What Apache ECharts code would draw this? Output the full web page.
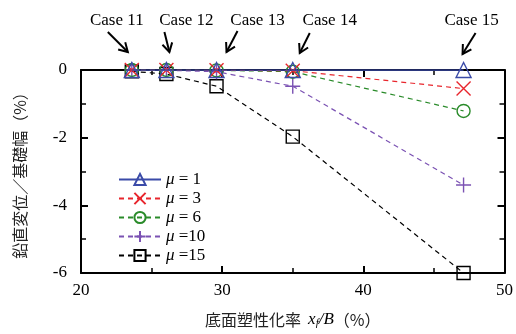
<!DOCTYPE html>
<html><head><meta charset="utf-8">
<script src="https://cdn.jsdelivr.net/npm/echarts@6/dist/echarts.min.js"></script>
<style>html,body{margin:0;padding:0;background:#fff}#c{width:516px;height:334px}</style>
</head><body><div id="c"></div>
<script>
// Data
var xRatio = [23.6, 26.05, 29.6, 35.0, 47.1];
var caseNames = ['Case 11', 'Case 12', 'Case 13', 'Case 14', 'Case 15'];
var mu1  = [0, 0, 0, 0, 0];
var mu3  = [0, 0, -0.01, -0.02, -0.55];
var mu6  = [0, 0, -0.01, -0.05, -1.21];
var mu10 = [0, -0.01, -0.05, -0.48, -3.40];
var mu15 = [-0.04, -0.12, -0.48, -1.97, -6.0];
var seriesNames = ['μ = 1', 'μ = 3', 'μ = 6', 'μ =10', 'μ =15'];

// annotation layout offsets (styling, relative to each case point)
var textDx  = [-15, 20, 41, 37, 8];
var arrowTop = [[-24, 32], [-2, 32], [21, 31], [17, 33], [12, 33]];
var arrowTip = [[-4, 52], [3, 52], [10, 52], [7, 53], [-1, 54]];

var serif = 'Liberation Serif, Times New Roman, serif';
function pair(v){ return xRatio.map(function(x,i){ return [x, v[i]]; }); }

var chart = echarts.init(document.getElementById('c'));
function mk(name, data, color, symbol, size, dashed, z){
  return {
    name: name, type: 'line', data: pair(data), z: z,
    symbol: symbol, symbolSize: size,
    lineStyle: {color: color, width: dashed ? 1.2 : 1.5, type: dashed ? [5,4] : 'solid'},
    itemStyle: {color: 'rgba(255,255,255,0)', borderColor: color, borderWidth: 1.4},
    emphasis: {disabled: true}
  };
}
var axisLine = {show: true, onZero: false, lineStyle: {color: '#000', width: 2}};
var tick = {show: true, inside: true, length: 7, lineStyle: {color: '#000', width: 2}};
var minor = {show: true, splitNumber: 2, length: 5, lineStyle: {color: '#000', width: 1.5}};
var option = {
  animation: false,
  grid: {left: 81, right: 10, top: 70, bottom: 54},
  xAxis: [{
    type: 'value', min: 20, max: 50, interval: 10,
    axisLine: axisLine, axisTick: tick, minorTick: minor, splitLine: {show: false},
    axisLabel: {color: '#000', fontFamily: serif, fontSize: 17, margin: 9},
    name: '{c|底面塑性化率  }{i|x}{s|f}{i|/B}{c|（%）}',
    nameLocation: 'middle', nameGap: 37,
    nameTextStyle: {rich: {
      c: {fontFamily: 'Noto Sans CJK JP', fontSize: 16, color: '#222'},
      i: {fontFamily: serif, fontStyle: 'italic', fontSize: 17, color: '#000'},
      s: {fontFamily: serif, fontStyle: 'italic', fontSize: 11, color: '#000', verticalAlign: 'bottom', padding: [8,0,0,0]}
    }}
  }, {
    type: 'value', position: 'top', min: 20, max: 50, interval: 10,
    axisLine: axisLine, axisTick: tick, minorTick: minor, splitLine: {show: false},
    axisLabel: {show: false}
  }],
  yAxis: [{
    type: 'value', min: -6, max: 0, interval: 2,
    axisLine: axisLine, axisTick: tick, minorTick: minor, splitLine: {show: false},
    axisLabel: {color: '#000', fontFamily: serif, fontSize: 17, margin: 14},
    name: '鉛直変位／基礎幅（%）', nameLocation: 'middle', nameGap: 53, nameRotate: 90,
    nameTextStyle: {fontFamily: 'Noto Sans CJK JP', fontSize: 16, color: '#222'}
  }, {
    type: 'value', position: 'right', min: -6, max: 0, interval: 2,
    axisLine: axisLine, axisTick: tick, minorTick: minor, splitLine: {show: false},
    axisLabel: {show: false}
  }],
  legend: {
    orient: 'vertical', left: 118, top: 171, padding: 0,
    itemWidth: 42, itemHeight: 14, itemGap: 2,
    data: seriesNames,
    formatter: function(n){ return '{i|μ}{n|' + n.slice(1) + '}'; },
    textStyle: {rich: {
      i: {fontFamily: serif, fontStyle: 'italic', fontSize: 17, color: '#000'},
      n: {fontFamily: serif, fontSize: 17, color: '#000'}
    }}
  },
  series: [
    mk(seriesNames[4], mu15, '#000000', 'rect', 13, true, 2),
    mk(seriesNames[3], mu10, '#7b52b3', 'path://M5,0L5,10M0,5L10,5', 15, true, 3),
    mk(seriesNames[2], mu6, '#2a8b2a', 'circle', 13, true, 4),
    mk(seriesNames[1], mu3, '#e8262d', 'path://M0,0L10,10M10,0L0,10', 14, true, 5),
    mk(seriesNames[0], mu1, '#3a4aa8', 'triangle', 15, false, 6)
  ]
};
chart.setOption(option);

var g = [];
xRatio.forEach(function(x, i){
  var p = chart.convertToPixel({xAxisIndex: 0, yAxisIndex: 0}, [x, 0]);
  var px = p[0];
  g.push({type: 'text', x: px + textDx[i], y: 21, style: {
    text: caseNames[i], fontFamily: serif, fontSize: 17, fill: '#000',
    align: 'center', verticalAlign: 'middle'}});
  var x1 = px + arrowTop[i][0], y1 = arrowTop[i][1];
  var x2 = px + arrowTip[i][0], y2 = arrowTip[i][1];
  var ang = Math.atan2(y2 - y1, x2 - x1), L = 10, a = Math.PI / 6;
  var style = {stroke: '#000', lineWidth: 2, fill: null};
  g.push({type: 'line', shape: {x1: x1, y1: y1, x2: x2, y2: y2}, style: style});
  g.push({type: 'polyline', shape: {points: [
    [x2 - L * Math.cos(ang - a), y2 - L * Math.sin(ang - a)],
    [x2, y2],
    [x2 - L * Math.cos(ang + a), y2 - L * Math.sin(ang + a)]]}, style: style});
});
chart.setOption({graphic: g});
</script></body></html>
